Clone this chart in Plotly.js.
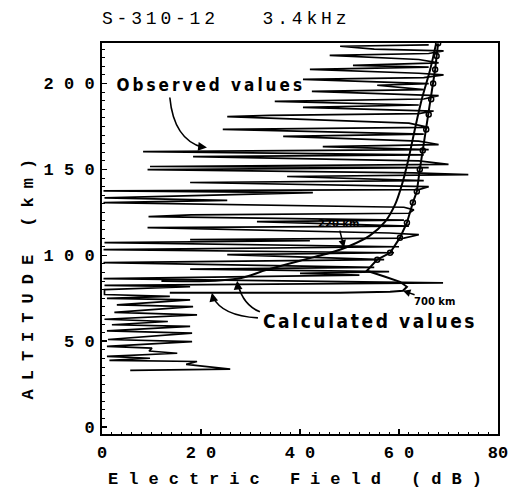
<!DOCTYPE html>
<html>
<head>
<meta charset="utf-8">
<script src="https://cdn.plot.ly/plotly-3.0.1.min.js"></script>
<style>
  html, body { margin: 0; padding: 0; background: #fff; }
  #chart { width: 511px; height: 490px; }
  .gtitle { letter-spacing: 3.8px; }
  .xtitle { letter-spacing: 10px; }
  .annotation[data-index="0"] .annotation-text { letter-spacing: 3px; }
  .annotation[data-index="1"] .annotation-text { letter-spacing: 2.6px; }
  .annotation[data-index="7"] .annotation-text { letter-spacing: 9px; }
</style>
</head>
<body>
<div id="chart"></div>
<script>
// ---------- data (altitude km, electric field dB) ----------
var obsAlt = [33.0,33.8,36.5,38.2,38.8,40.1,41.2,43.0,44.3,46.0,47.0,49.8,51.0,54.7,56.0,58.6,59.6,61.5,62.8,65.4,66.8,70.2,71.2,74.1,75.0,76.1,77.2,80.0,81.7,82.5,84.0,86.5,
  88.5,89.5,90.5,92.0,93.0,95.7,97.5,100.4,101.5,103.3,105.0,107.4,108.5,109.1,110.0,112.0,113.0,116.1,117.0,119.6,120.5,122.5,123.5,124.5,126.5,128.0,130.7,132.0,133.5,136.5,137.5,138.3,140.0,142.4,143.5,145.9,147.0,148.0,149.9,151.0,151.7,153.0,155.0,157.5,158.5,160.4,161.5,163.3,164.5,166.5,169.2,170.5,173.3,174.5,177.0,180.8,181.5,182.5,184.0,186.1,187.5,189.6,191.0,193.0,195.4,196.5,199.0,200.0,202.4,203.5,205.0,206.0,208.2,209.5,210.6,212.0,214.0,216.4,217.5,219.0,220.0,221.7,222.5];
var obsField = [5.7,25.9,17.0,19.2,1.5,9.7,1.0,15.2,9.5,10.1,1.0,18.2,1.2,18.2,1.0,17.8,2.0,13.3,0.5,19.2,2.5,18.4,3.0,17.8,1.0,13.7,0.5,0.5,17.8,0.5,68.9,0.3,
  52,40,58,17.8,55,0.3,57,25.3,59,0.3,60,0.5,42,17.8,61,64,58,9.2,62,31.3,61,9.4,18,62,63,61,0.3,25.3,0.5,42.6,0.3,64,66,17.8,65,37.4,74,63,9.2,66,9.7,70,64,18.4,65,8.3,66,44.6,68,64,36.6,65,24.4,66,62,25.3,33.9,64,67,40.6,64,34.9,65,68,42.4,65,55.6,66,40.6,65,69,64,42.0,66,50.7,68,64,46.0,66,69,55,48.1,66];

var calc220Alt   = [85.0,86.4,91.6,96.9,101.5,105.6,111.5,119.6,129.5,141.2,154.6,173.3,190.8,208.2,223.4];
var calc220Field = [12.0,27.3,33.3,40.0,46.1,50.1,54.1,57.2,59.2,60.6,61.8,63.2,64.6,66.3,67.5];

var calc700Alt   = [78.2,78.2,78.2,78.8,79.4,81.7,84.6,87.5,91.0,97.5,101.5,110.3,119.0,130.7,137.1,149.9,161.0,173.3,182.0,190.8,200.0,208.2,216.0,223.4];
var calc700Field = [13.7,31.9,48.1,58.2,60.8,61.6,60.2,57.2,53.5,55.6,58.2,60.2,61.6,62.8,63.6,64.2,64.8,65.5,66.0,66.5,66.9,67.3,67.6,67.9];

var xTickVals = [0,20,40,60,80];
var xTickText = ['0','2 0','4 0','6 0','80'];
var yTickVals = [0,50,100,150,200];
var yTickText = ['0','5 0','1 0 0','1 5 0','2 0 0'];

// circle markers along the upper part of the 700 km curve
var mkAlt = [], mkField = [];
for (var i = 0; i < calc700Alt.length; i++) {
  if (calc700Alt[i] > 95) { mkAlt.push(calc700Alt[i]); mkField.push(calc700Field[i]); }
}

var mono = 'Liberation Mono, DejaVu Sans Mono, monospace';
var narrow = 'DejaVu Sans Condensed, Liberation Sans Narrow, DejaVu Sans, sans-serif';

var traces = [
  { x: obsField, y: obsAlt, mode: 'lines', line: {color: '#000', width: 1.7}, hoverinfo: 'skip', showlegend: false },
  { x: calc220Field, y: calc220Alt, mode: 'lines', line: {color: '#000', width: 2, shape: 'spline'}, hoverinfo: 'skip', showlegend: false },
  { x: calc700Field, y: calc700Alt, mode: 'lines', line: {color: '#000', width: 2}, hoverinfo: 'skip', showlegend: false },
  { x: mkField, y: mkAlt, mode: 'markers', marker: {symbol: 'circle-open', size: 5, color: '#000', line: {width: 1.5}}, hoverinfo: 'skip', showlegend: false }
];

var arrowLine = {color: '#000', width: 1.6};
var layout = {
  width: 511, height: 490,
  margin: {l: 102, r: 13, t: 43, b: 56},
  paper_bgcolor: '#fff', plot_bgcolor: '#fff',
  showlegend: false,
  title: {
    text: 'S-310-12\u00a0\u00a0\u00a03.4kHz',
    font: {family: mono, size: 18, color: '#000'},
    xref: 'container', x: 102/511, xanchor: 'left',
    yref: 'container', y: 1 - 18/490, yanchor: 'middle'
  },
  xaxis: {
    range: [0, 80], tickvals: xTickVals, ticktext: xTickText,
    ticks: 'inside', ticklen: 5, tickwidth: 1.5, tickcolor: '#000',
    showline: true, mirror: true, linewidth: 2, linecolor: '#000',
    showgrid: false, zeroline: false, ticklabelstandoff: 2, ticklabeloverflow: 'allow',
    tickfont: {family: mono, size: 17, weight: 'bold', color: '#000'},
    minor: {dtick: 2, ticks: 'inside', ticklen: 2.5, tickcolor: '#000', tickwidth: 1, showgrid: false},
    title: {text: '\u00a0Electric Field (dB)', standoff: 10, font: {family: mono, size: 17, weight: 'bold', color: '#000'}}
  },
  yaxis: {
    range: [-4, 223.6], tickvals: yTickVals, ticktext: yTickText,
    ticks: 'inside', ticklen: 5, tickwidth: 1.5, tickcolor: '#000',
    showline: true, mirror: true, linewidth: 2, linecolor: '#000',
    showgrid: false, zeroline: false, ticklabelstandoff: 2, ticklabeloverflow: 'allow',
    tickfont: {family: mono, size: 17, weight: 'bold', color: '#000'},
    minor: {dtick: 5, ticks: 'inside', ticklen: 2.5, tickcolor: '#000', tickwidth: 1, showgrid: false}
  },
  shapes: [
    {type: 'path', xref: 'x', yref: 'y', path: 'M 13.7,191.9 Q 14.5,167.4 20.4,162.8', line: arrowLine},
    {type: 'path', xref: 'x', yref: 'y', path: 'M 31.5,63.6 Q 24.2,64.8 22.4,75.9', line: arrowLine},
    {type: 'path', xref: 'x', yref: 'y', path: 'M 31.9,67.1 Q 28.5,71.2 27.5,82.9', line: arrowLine}
  ],
  annotations: [
    {text: 'Observed values', x: 22.0, y: 198.9, xref: 'x', yref: 'y', showarrow: false,
     font: {family: narrow, size: 17, weight: 'bold', color: '#000'}},
    {text: 'Calculated values', x: 54.1, y: 61.9, xref: 'x', yref: 'y', showarrow: false,
     font: {family: narrow, size: 19, weight: 'bold', color: '#000'}},
    {text: '220 km', x: 48.9, y: 104.5, xref: 'x', yref: 'y', showarrow: true, ax: -6, ay: -24,
     arrowhead: 2, arrowsize: 1, arrowwidth: 1.5, arrowcolor: '#000',
     font: {family: 'DejaVu Sans, sans-serif', size: 10, weight: 'bold', color: '#000'}},
    {text: '700 km', x: 60.8, y: 79.4, xref: 'x', yref: 'y', showarrow: true, ax: 32, ay: 11,
     arrowhead: 2, arrowsize: 1, arrowwidth: 1.5, arrowcolor: '#000',
     font: {family: 'DejaVu Sans, sans-serif', size: 10, weight: 'bold', color: '#000'}},
    {text: ' ', x: 21.2, y: 162.8, xref: 'x', yref: 'y', showarrow: true, ax: -9, ay: -1,
     arrowhead: 2, arrowsize: 1.1, arrowwidth: 1.6, arrowcolor: '#000', font: {size: 1}},
    {text: ' ', x: 22.2, y: 78.2, xref: 'x', yref: 'y', showarrow: true, ax: 2, ay: 9,
     arrowhead: 2, arrowsize: 1.1, arrowwidth: 1.6, arrowcolor: '#000', font: {size: 1}},
    {text: ' ', x: 27.3, y: 85.2, xref: 'x', yref: 'y', showarrow: true, ax: 1, ay: 9,
     arrowhead: 2, arrowsize: 1.1, arrowwidth: 1.6, arrowcolor: '#000', font: {size: 1}},
    {text: 'ALTITUDE (km)', xref: 'paper', yref: 'paper', x: (28 - 102) / 396, y: (434 - 275) / 391,
     textangle: -90, showarrow: false, xanchor: 'center', yanchor: 'middle',
     font: {family: mono, size: 17, weight: 'bold', color: '#000'}}
  ]
};

Plotly.newPlot('chart', traces, layout, {staticPlot: true, displayModeBar: false});
</script>
</body>
</html>
